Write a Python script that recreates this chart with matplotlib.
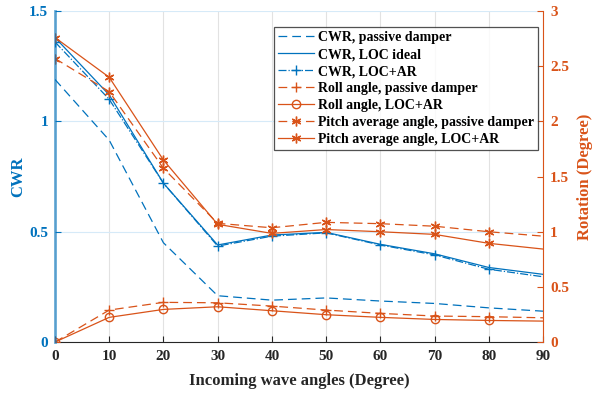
import matplotlib.pyplot as plt

plt.rcParams['font.family'] = ['Liberation Serif', 'DejaVu Serif']
plt.rcParams['font.weight'] = 'bold'

angles = [0, 10, 20, 30, 40, 50, 60, 70, 80, 90]

cwr_passive = [1.19, 0.915, 0.45, 0.21, 0.19, 0.20, 0.186, 0.175, 0.155, 0.14]
cwr_loc_ideal = [1.38, 1.12, 0.72, 0.44, 0.485, 0.497, 0.443, 0.40, 0.338, 0.307]
cwr_loc_ar = [1.36, 1.10, 0.72, 0.435, 0.48, 0.495, 0.44, 0.395, 0.33, 0.296]

roll_passive = [0.0, 0.29, 0.36, 0.356, 0.326, 0.29, 0.26, 0.236, 0.23, 0.22]
roll_loc_ar = [0.0, 0.224, 0.296, 0.32, 0.284, 0.248, 0.224, 0.205, 0.196, 0.19]
pitch_passive = [2.57, 2.27, 1.575, 1.076, 1.036, 1.085, 1.073, 1.05, 1.0, 0.96]
pitch_loc_ar = [2.76, 2.40, 1.65, 1.067, 0.985, 1.02, 1.0, 0.976, 0.895, 0.843]

blue = '#0072BD'
orange = '#D95319'
marks = list(range(0, 9))

fig = plt.figure(figsize=(5.95, 3.95), dpi=100)
ax = fig.add_axes([0.0924, 0.134, 0.8202, 0.838])
ax2 = ax.twinx()

l1, = ax.plot(angles, cwr_passive, '--', color=blue, lw=0.9, dashes=(7, 4))
l2, = ax.plot(angles, cwr_loc_ideal, '-', color=blue, lw=0.9)
l3, = ax.plot(angles, cwr_loc_ar, '-.', color=blue, lw=0.9, marker='+', ms=7,
              markevery=marks)

l4, = ax2.plot(angles, roll_passive, '--', color=orange, lw=0.9, dashes=(7, 4),
               marker='+', ms=7, markevery=marks)
l5, = ax2.plot(angles, roll_loc_ar, '-', color=orange, lw=0.9, marker='o', ms=6,
               mfc='none', markevery=marks)
l6, = ax2.plot(angles, pitch_passive, '--', color=orange, lw=0.9, dashes=(7, 4),
               marker=(6, 2, 0), ms=7, markevery=marks)
l7, = ax2.plot(angles, pitch_loc_ar, '-', color=orange, lw=0.9,
               marker=(6, 2, 0), ms=7, markevery=marks)

ax.set_xlim(0, 90)
ax.set_ylim(0, 1.5)
ax2.set_ylim(0, 3)
ax.set_xticks(angles)
ax.set_yticks([0, 0.5, 1, 1.5])
ax.set_yticklabels(['0', '0.5', '1', '1.5'])
ax2.set_yticks([0, 0.5, 1, 1.5, 2, 2.5, 3])
ax2.set_yticklabels(['0', '0.5', '1', '1.5', '2', '2.5', '3'])

ax.grid(axis='x', color='#e2e2e2', lw=0.8)
ax.grid(axis='y', color='#d6eaf8', lw=0.8)
ax.set_axisbelow(True)

ax.tick_params(axis='x', direction='in', labelsize=11, colors='#262626', length=4, pad=6)
ax.tick_params(axis='y', direction='in', labelsize=11, colors=blue, length=4, pad=5)
ax2.tick_params(axis='y', direction='in', labelsize=11, colors=orange, length=4, pad=5)

for s in ['top']:
    ax.spines[s].set_visible(False)
    ax2.spines[s].set_visible(False)
ax.spines['bottom'].set_color('#262626')
ax2.spines['bottom'].set_visible(False)
ax2.spines['left'].set_color(blue)
ax2.spines['left'].set_linewidth(2.0)
ax2.spines['left'].set_alpha(0.6)
ax2.spines['right'].set_color(orange)
ax.spines['left'].set_visible(False)
ax.spines['right'].set_visible(False)

ax.set_xlabel('Incoming wave angles (Degree)', fontsize=12, fontweight='bold',
              color='#262626', labelpad=7)
ax.set_ylabel('CWR', fontsize=12, fontweight='bold', color=blue, labelpad=2)
ax2.set_ylabel('Rotation (Degree)', fontsize=12, fontweight='bold', color=orange,
               labelpad=6)

leg = ax2.legend([l1, l2, l3, l4, l5, l6, l7],
                 ['CWR, passive damper', 'CWR, LOC ideal', 'CWR, LOC+AR',
                  'Roll angle, passive damper', 'Roll angle, LOC+AR',
                  'Pitch average angle, passive damper',
                  'Pitch average angle, LOC+AR'],
                 loc='upper right', bbox_to_anchor=(0.99, 0.952), borderaxespad=0,
                 fontsize=10, frameon=True, fancybox=False, handlelength=2.6,
                 borderpad=0.3, labelspacing=0.29, handletextpad=0.3)
leg.get_frame().set_edgecolor('#262626')
leg.get_frame().set_linewidth(0.9)
for t in leg.get_texts():
    t.set_fontweight('bold')

fig.savefig('out.png', dpi=100)
